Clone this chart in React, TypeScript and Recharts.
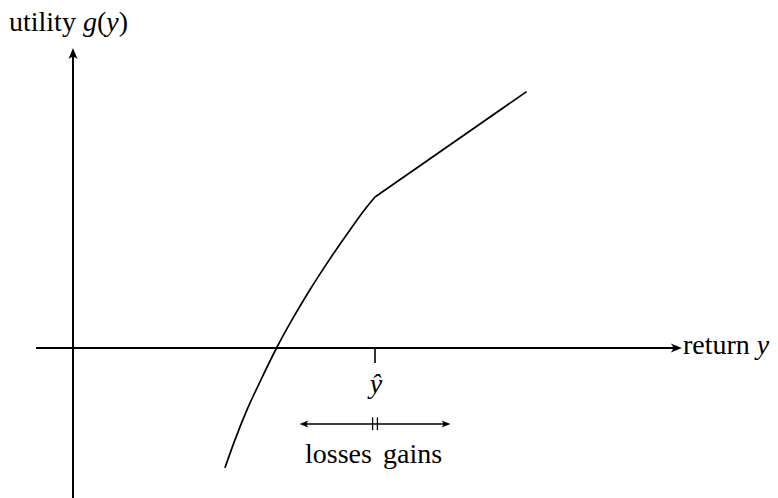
import { ComposedChart, Line, XAxis, YAxis, ReferenceLine } from "recharts";

// y measured in units where the reference point y-hat = 1 and g(y-hat) = 0.5
const lossCurve = [
  { x: 0.503, g: -0.397 },
  { x: 0.536, g: -0.305 },
  { x: 0.576, g: -0.205 },
  { x: 0.622, g: -0.106 },
  { x: 0.674, g: 0 },
  { x: 0.725, g: 0.093 },
  { x: 0.784, g: 0.192 },
  { x: 0.848, g: 0.291 },
  { x: 0.917, g: 0.391 },
  { x: 0.965, g: 0.457 },
  { x: 1.0, g: 0.5 },
];
const gainLine = [
  { x: 1.0, g: 0.5 },
  { x: 1.502, g: 0.849 },
];

const yHat = 1;
const xDomain = [-0.2417, 2.3344];
const yDomain = [-0.4967, 1.1523];
const xAxisSpan = [-0.1225, 2.016];
const yAxisSpan = [-0.4967, 0.993];
const spread = 0.25; // losses / gains arrows
const W = 778;
const H = 498;

const arrow = (len: number, half: number) => (p: any) => {
  const { x1, y1, x2, y2, stroke, strokeWidth } = p;
  const a = Math.atan2(y2 - y1, x2 - x1);
  const c = Math.cos(a);
  const s = Math.sin(a);
  const pt = (bx: number, by: number) =>
    `${x2 + bx * c - by * s},${y2 + bx * s + by * c}`;
  return (
    <g>
      <line x1={x1} y1={y1} x2={x2 - len * 0.6 * c} y2={y2 - len * 0.6 * s} stroke={stroke} strokeWidth={strokeWidth} />
      <path
        d={`M${pt(0, 0)} L${pt(-len, half)} Q${pt(-len * 0.6, 0)} ${pt(-len, -half)} Z`}
        fill={stroke}
      />
    </g>
  );
};

const txt = { fontFamily: "'Liberation Serif', 'DejaVu Serif', serif", fontSize: 28, fill: "#000" };

export default function App() {
  return (
    <div style={{ position: "absolute", left: 0, top: 0, width: W, height: H, background: "#fff" }}>
      <ComposedChart width={W} height={H} margin={{ top: 0, right: 0, bottom: 0, left: 0 }}>
        <XAxis type="number" dataKey="x" domain={xDomain} hide allowDataOverflow />
        <YAxis type="number" domain={yDomain} hide allowDataOverflow />
        <ReferenceLine
          segment={[{ x: xAxisSpan[0], y: 0 }, { x: xAxisSpan[1], y: 0 }]}
          stroke="#000"
          strokeWidth={2}
          shape={arrow(11, 4.5)}
          ifOverflow="visible"
        />
        <ReferenceLine
          segment={[{ x: 0, y: yAxisSpan[0] }, { x: 0, y: yAxisSpan[1] }]}
          stroke="#000"
          strokeWidth={2}
          shape={arrow(11, 4.5)}
          ifOverflow="visible"
        />
        <ReferenceLine
          segment={[{ x: yHat, y: 0 }, { x: yHat, y: -0.05 }]}
          stroke="#000"
          strokeWidth={1.6}
          ifOverflow="visible"
        />
        <ReferenceLine
          segment={[{ x: yHat, y: -0.2517 }, { x: yHat - spread, y: -0.2517 }]}
          stroke="#000"
          strokeWidth={1.3}
          shape={arrow(9, 3.5)}
          ifOverflow="visible"
        />
        <ReferenceLine
          segment={[{ x: yHat, y: -0.2517 }, { x: yHat + spread, y: -0.2517 }]}
          stroke="#000"
          strokeWidth={1.3}
          shape={arrow(9, 3.5)}
          ifOverflow="visible"
        />
        <ReferenceLine
          segment={[{ x: yHat - 0.008, y: -0.23 }, { x: yHat - 0.008, y: -0.272 }]}
          stroke="#000"
          strokeWidth={1.3}
          ifOverflow="visible"
        />
        <ReferenceLine
          segment={[{ x: yHat + 0.008, y: -0.23 }, { x: yHat + 0.008, y: -0.272 }]}
          stroke="#000"
          strokeWidth={1.3}
          ifOverflow="visible"
        />
        <Line
          data={lossCurve}
          dataKey="g"
          type="monotone"
          stroke="#000"
          strokeWidth={1.7}
          dot={false}
          activeDot={false}
          isAnimationActive={false}
        />
        <Line
          data={gainLine}
          dataKey="g"
          type="linear"
          stroke="#000"
          strokeWidth={1.7}
          dot={false}
          activeDot={false}
          isAnimationActive={false}
        />
      </ComposedChart>
      <svg width={W} height={H} style={{ position: "absolute", left: 0, top: 0, pointerEvents: "none" }}>
        <text x={9} y={31} {...txt}>
          utility <tspan fontStyle="italic">g</tspan>(<tspan fontStyle="italic">y</tspan>)
        </text>
        <text x={683} y={354} {...txt}>
          return <tspan fontStyle="italic">y</tspan>
        </text>
        <text x={376} y={393} textAnchor="middle" {...txt} fontStyle="italic">
          ŷ
        </text>
        <text x={305} y={463} {...txt}>
          losses
        </text>
        <text x={383} y={463} {...txt}>
          gains
        </text>
      </svg>
    </div>
  );
}
